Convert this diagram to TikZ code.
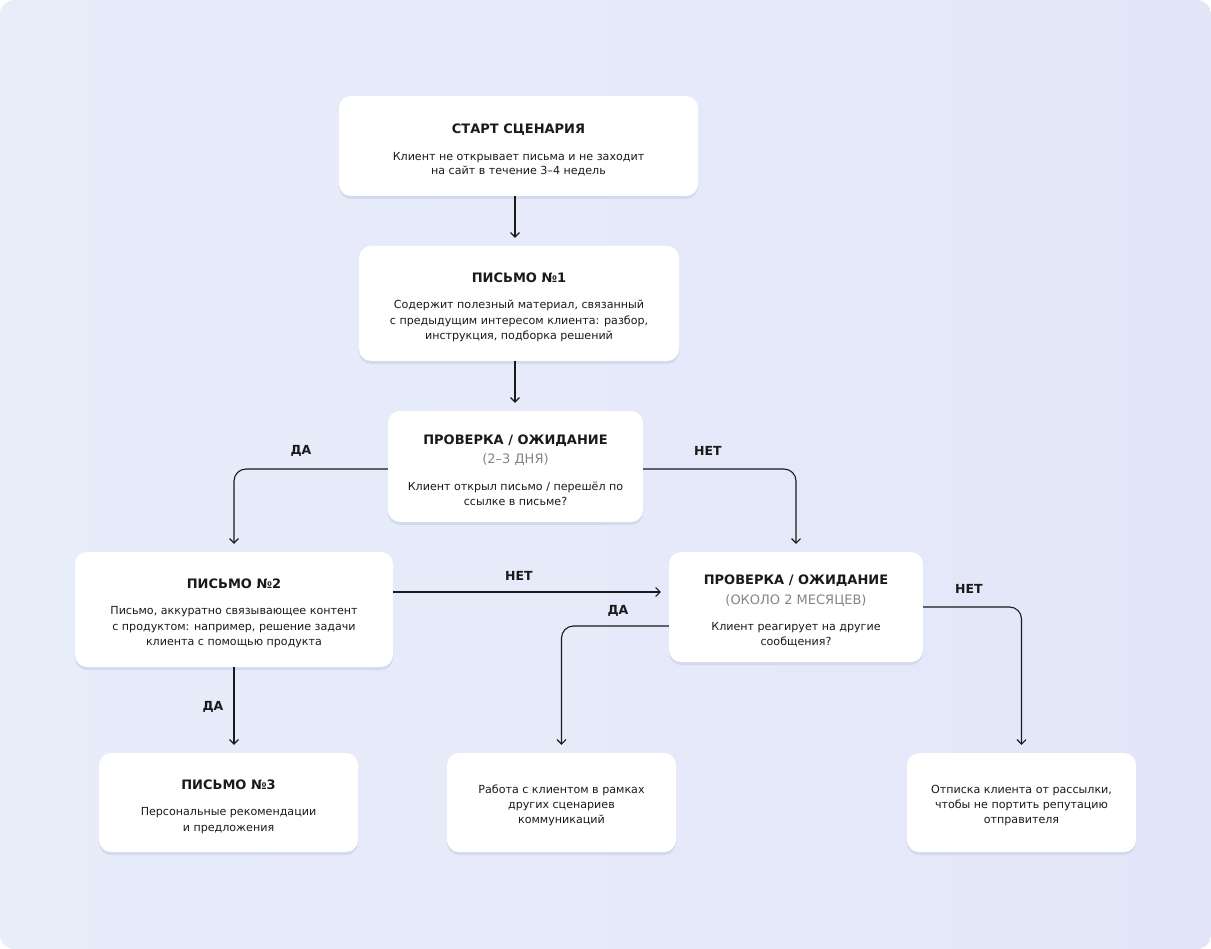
\documentclass[tikz,border=0pt]{standalone}
\usepackage{fontspec}
\setmainfont{DejaVu Sans}
\usetikzlibrary{arrows.meta,calc}
\definecolor{bgA}{HTML}{E8EDFA}
\definecolor{bgB}{HTML}{E3E6F8}
\definecolor{shadowc}{HTML}{D3D9EE}
\definecolor{ink}{HTML}{1A1A1A}
\definecolor{subc}{HTML}{858585}
\newcommand{\ttl}[1]{{\fontsize{13}{15.5}\selectfont\bfseries\rule{0pt}{18pt}#1}}
\newcommand{\subt}[1]{{\fontsize{13}{15.5}\selectfont\color{subc}#1}}
\newcommand{\topgap}{\rule{0pt}{14.5pt}}
\tikzset{
  box/.style={fill=white, rounded corners=12pt, align=center, text=ink,
    font=\fontsize{11.1}{15.5}\selectfont, inner sep=0pt,
    preaction={fill=shadowc, transform canvas={yshift=-3pt}}},
  arr/.style={draw=ink, line width=1.1pt, rounded corners=12pt,
    -{Straight Barb[length=4.5pt,width=9pt,line width=1.1pt]}, shorten >=8pt},
  lbl/.style={font=\fontsize{12.5}{14}\selectfont\bfseries, text=ink, inner sep=0pt}
}
\begin{document}
\begin{tikzpicture}[x=1pt,y=-1pt]
\useasboundingbox (0,0) rectangle (1211,949);
\shade[rounded corners=14pt, left color=bgA, right color=bgB] (0,0) rectangle (1211,949);

\node[box, minimum width=359pt, minimum height=100pt] (start) at (518.5,146)
  {\ttl{СТАРТ СЦЕНАРИЯ}\\[11pt]Клиент не открывает письма и не заходит\\[-1.5pt]на сайт в течение 3–4 недель};
\node[box, minimum width=320pt, minimum height=115pt] (l1) at (519,303.5)
  {\ttl{ПИСЬМО №1}\\[10.5pt]Содержит полезный материал, связанный\\с предыдущим интересом клиента: разбор,\\инструкция, подборка решений};
\node[box, minimum width=255pt, minimum height=111pt] (c1) at (515.5,466.5)
  {\ttl{ПРОВЕРКА / ОЖИДАНИЕ}\\[3.5pt]\subt{(2–3 ДНЯ)}\\[11pt]Клиент открыл письмо / перешёл по\\ссылке в письме?};
\node[box, minimum width=318pt, minimum height=115pt] (l2) at (234,609.5)
  {\ttl{ПИСЬМО №2}\\[10.5pt]Письмо, аккуратно связывающее контент\\с продуктом: например, решение задачи\\клиента с помощью продукта};
\node[box, minimum width=254pt, minimum height=110pt] (c2) at (796,607)
  {\ttl{ПРОВЕРКА / ОЖИДАНИЕ}\\[4pt]\subt{(ОКОЛО 2 МЕСЯЦЕВ)}\\[10.5pt]Клиент реагирует на другие\\сообщения?};
\node[box, minimum width=259pt, minimum height=99pt] (l3) at (228.5,802.5)
  {\ttl{ПИСЬМО №3}\\[10.5pt]Персональные рекомендации\\и предложения};
\node[box, minimum width=229pt, minimum height=99pt] (work) at (561.5,802.5)
  {\topgap Работа с клиентом в рамках\\[-0.5pt]других сценариев\\[-0.5pt]коммуникаций};
\node[box, minimum width=229pt, minimum height=99pt] (unsub) at (1021.5,802.5)
  {\topgap Отписка клиента от рассылки,\\[-0.5pt]чтобы не портить репутацию\\[-0.5pt]отправителя};

\draw[arr] (start.south -| 515,0) -- (l1.north -| 515,0);
\draw[arr] (l1.south -| 515,0) -- (c1.north -| 515,0);
\draw[arr] ($(c1.west)+(0,2.5)$) -| (l2.north);
\draw[arr] ($(c1.east)+(0,2.5)$) -| (c2.north);
\draw[arr] ($(l2.east)+(0,-17.5)$) -- ($(c2.west |- l2.east)+(0,-17.5)$);
\draw[arr] ($(c2.west)+(0,19)$) -| (work.north);
\draw[arr] (c2.east) -| (unsub.north);
\draw[arr] (l2.south) -- (l2.south |- l3.north);

\node[lbl] (yes1) at (301,451) {ДА};
\node[lbl] (no1) at (708,451) {НЕТ};
\node[lbl] (no2) at (519,576) {НЕТ};
\node[lbl] (yes2) at (618,611) {ДА};
\node[lbl] (no3) at (969,589) {НЕТ};
\node[lbl] (yes3) at (213,707) {ДА};
\end{tikzpicture}
\end{document}
